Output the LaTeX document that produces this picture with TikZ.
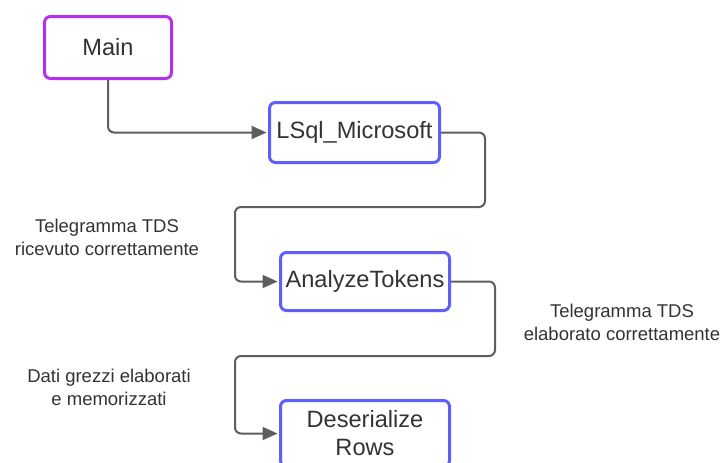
\documentclass[tikz,border=0pt]{standalone}
\usepackage{fontspec}
\setmainfont{Liberation Sans}
\usetikzlibrary{arrows.meta}

\definecolor{mainpurple}{HTML}{B530EC}
\definecolor{stepblue}{HTML}{5E5EFF}
\definecolor{inktext}{HTML}{333333}
\definecolor{wire}{HTML}{5E5E5E}

\begin{document}
\begin{tikzpicture}[x=1pt,y=-1pt,
  boxbase/.style={draw, line width=3pt, rounded corners=6pt, fill=white,
    text=inktext, font=\fontsize{23.6}{28}\selectfont, align=center, inner sep=0pt},
  mainbox/.style={boxbase, draw=mainpurple},
  stepbox/.style={boxbase, draw=stepblue},
  note/.style={text=inktext, font=\fontsize{18.5}{23}\selectfont, align=center, inner sep=0pt},
  conn/.style={draw=wire, line width=2pt, rounded corners=6pt,
    -{Triangle[length=15pt,width=13pt]}, shorten >=1.5pt}
]
  \useasboundingbox (0,0) rectangle (724,463);
  \begin{scope}
  \clip (0,0) rectangle (724,463);

  % process boxes
  \node[mainbox, minimum width=127pt, minimum height=62pt] (main) at (108,47.5) {Main};
  \node[stepbox, minimum width=170pt, minimum height=60pt] (lsql) at (354.5,132.5) {LSql\_Microsoft};
  \node[stepbox, minimum width=169pt, minimum height=58pt] (analyze) at (365,281.5) {AnalyzeTokens};
  \node[stepbox, minimum width=169pt, minimum height=66pt] (deser) at (365,433.5) {Deserialize\\Rows};

  % bend points of the routed connectors
  \coordinate (r1) at (485,207);
  \coordinate (l1) at (235,207);
  \coordinate (r2) at (495,356);
  \coordinate (l2) at (235,356);

  % connectors
  \draw[conn] (main.south) |- (lsql.west);
  \draw[conn] (lsql.east) -| (r1) -- (l1) |- (analyze.west);
  \draw[conn] (analyze.east) -| (r2) -- (l2) |- (deser.west);

  % side notes
  \node[note] (n1) at (107,237) {Telegramma TDS\\ricevuto correttamente};
  \node[note] (n2) at (622,322) {Telegramma TDS\\elaborato correttamente};
  \node[note] (n3) at (109,387) {Dati grezzi elaborati\\e memorizzati};
  \end{scope}
\end{tikzpicture}
\end{document}
